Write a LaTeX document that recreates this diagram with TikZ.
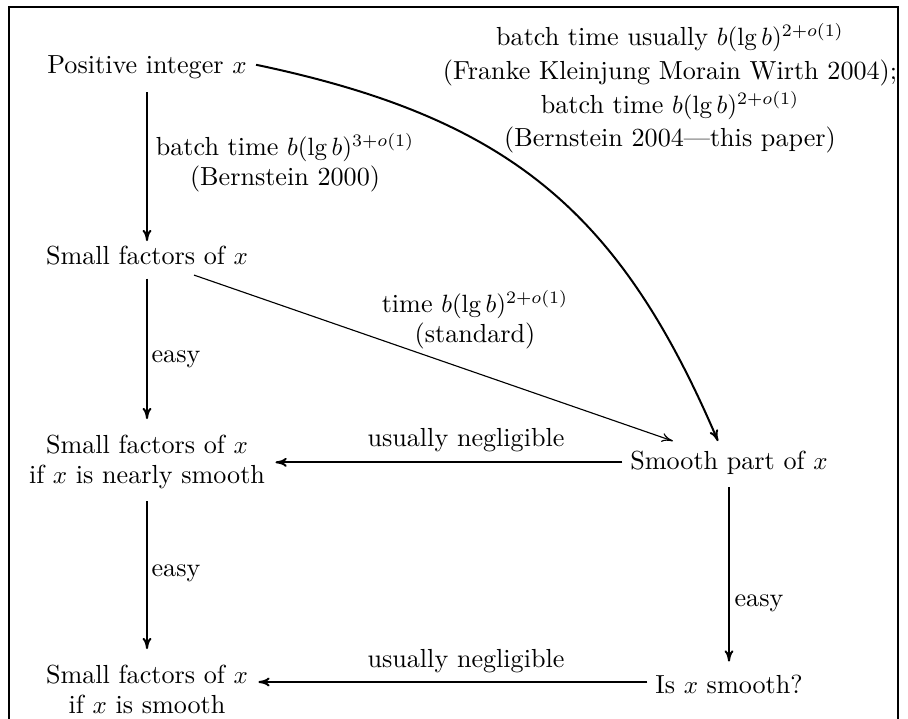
\documentclass[tikz,border=0pt]{standalone}
\usetikzlibrary{arrows.meta,calc}
\begin{document}
\begin{tikzpicture}[x=0.4pt,y=-0.4pt,
  every node/.style={font=\fontsize{10.45}{12}\selectfont},
  box/.style={inner sep=0pt,align=center,anchor=base},
  lbl/.style={inner sep=0pt,align=center,anchor=base},
  conn/.style={line width=0.8pt,-{To[length=4.5pt,width=3.6pt]}},
  thin/.style={line width=0.45pt,-{To[length=4.5pt,width=3.6pt]}}]
\useasboundingbox (0,0) rectangle (908,719);
\begin{scope}
\clip (0,0) rectangle (908,719);
\draw[line width=1pt] (9,7) rectangle (898,780);
\end{scope}
% nodes
\node[box] (pi) at (147,74) {Positive integer $x$};
\node[box] (sf) at (147,265) {Small factors of $x$};
\node[box] (sfn) at (147,483) {Small factors of $x$\\if $x$ is nearly smooth};
\node[box] (sfs) at (147,713) {Small factors of $x$\\if $x$ is smooth};
\node[box] (sp) at (729,469) {Smooth part of $x$};
\node[box] (isx) at (729,693) {Is $x$ smooth?};
% labels
\node[lbl] (l1) at (285,186) {batch time $b(\lg b)^{3+o(1)}$\\(Bernstein 2000)};
\node[lbl] (l2) at (475,343) {time $b(\lg b)^{2+o(1)}$\\(standard)};
\node[lbl] (l3) at (176,362) {easy};
\node[lbl] (l4) at (176,576) {easy};
\node[lbl] (l5) at (759,606) {easy};
\node[lbl] (l6) at (466,446) {usually negligible};
\node[lbl] (l7) at (466,667) {usually negligible};
\node[lbl] (l8) at (670,147) {batch time usually $b(\lg b)^{2+o(1)}$\\[1.5pt](Franke Kleinjung Morain Wirth 2004);\\[1.5pt]batch time $b(\lg b)^{2+o(1)}$\\[1.5pt](Bernstein 2004---this paper)};
% connectors
\coordinate (c1) at ($(pi.east)+(9,-3)$);
\coordinate (c2) at ($(sp.north)+(-11,-9)$);
\draw[conn] (c1) .. controls (510,118) and (620,212) .. (c2);
\coordinate (d1) at ($(sf.south)+(47,9)$);
\coordinate (d2) at ($(sp.north)+(-56,-9)$);
\draw[thin] (d1) -- (d2);
\draw[conn,shorten <=5pt,shorten >=2pt] (pi.south) -- (sf.north);
\draw[conn,shorten <=5pt,shorten >=6pt] (sf.south) -- (sfn.north);
\draw[conn,shorten <=5pt,shorten >=6pt] (sfn.south) -- (sfs.north);
\draw[conn,shorten <=5pt,shorten >=5pt] (sp.south) -- (isx.north);
\draw[conn,shorten <=3pt,shorten >=4pt] (sp.west) -- (sp.west -| sfn.east);
\draw[conn,shorten <=3pt,shorten >=4pt] (isx.west |- 0,682) -- (sfs.east |- 0,682);
\end{tikzpicture}
\end{document}
